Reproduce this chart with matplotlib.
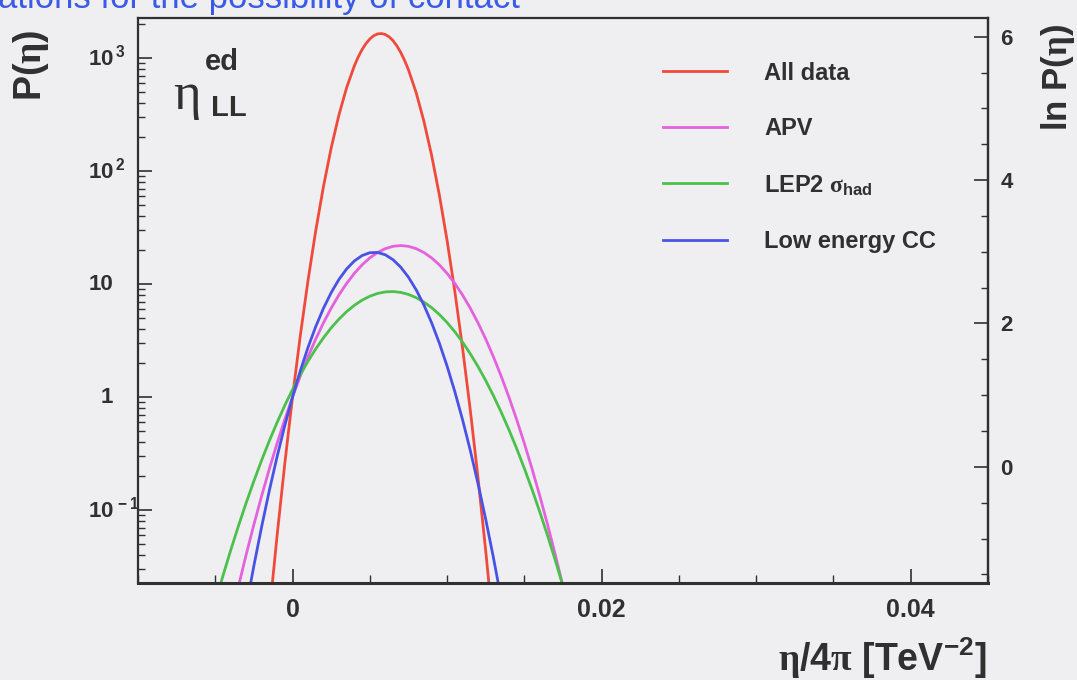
import matplotlib
matplotlib.use("Agg")
import matplotlib.pyplot as plt
import numpy as np
from matplotlib.ticker import FixedLocator, MultipleLocator, LogLocator, NullFormatter

# ln P(eta), for eta/4pi in TeV^-2
red_x = [-0.0015, -0.0010, -0.0005, 0.0, 0.0005, 0.0010, 0.0015, 0.0020, 0.0025, 0.0030,
         0.0035, 0.0040, 0.00425, 0.0045, 0.00475, 0.0050, 0.00525, 0.0055, 0.00575, 0.0060,
         0.00625, 0.0065, 0.00675, 0.0070, 0.00725, 0.0075, 0.0080, 0.0085, 0.0090, 0.0095,
         0.0100, 0.0105, 0.0110, 0.0115, 0.0120, 0.0125, 0.0130]
red_lnp = [-4.412, -2.827, -1.356, 0.000, 1.243, 2.371, 3.386, 4.287, 5.073, 5.746,
           6.304, 6.749, 6.929, 7.080, 7.202, 7.296, 7.362, 7.399, 7.407, 7.387,
           7.339, 7.262, 7.157, 7.023, 6.860, 6.669, 6.202, 5.620, 4.925, 4.116,
           3.192, 2.155, 1.003, -0.262, -1.641, -3.135, -4.742]

apv_x = [-0.0045, -0.0040, -0.0035, -0.0030, -0.0025, -0.0020, -0.0015, -0.0010, -0.0005, 0.0,
         0.0005, 0.0010, 0.0015, 0.0020, 0.0025, 0.0030, 0.0035, 0.0040, 0.0045, 0.0050,
         0.0055, 0.0060, 0.0065, 0.0070, 0.0075, 0.0080, 0.0085, 0.0090, 0.0095, 0.0100,
         0.0105, 0.0110, 0.0115, 0.0120, 0.0125, 0.0130, 0.0135, 0.0140, 0.0145, 0.0150,
         0.0155, 0.0160, 0.0165, 0.0170, 0.0175, 0.0180, 0.0185]
apv_lnp = [-5.245, -4.536, -3.859, -3.213, -2.599, -2.016, -1.465, -0.945, -0.457, 0.000,
           0.425, 0.819, 1.181, 1.512, 1.811, 2.079, 2.315, 2.520, 2.693, 2.835,
           2.945, 3.024, 3.071, 3.087, 3.071, 3.024, 2.945, 2.835, 2.693, 2.520,
           2.315, 2.079, 1.811, 1.512, 1.181, 0.819, 0.425, 0.000, -0.457, -0.945,
           -1.465, -2.016, -2.599, -3.213, -3.859, -4.536, -5.245]

lep2_x = [-0.0055, -0.0050, -0.0045, -0.0040, -0.0035, -0.0030, -0.0025, -0.0020, -0.0015, -0.0010,
          -0.0005, 0.0, 0.0005, 0.0010, 0.0015, 0.0020, 0.0025, 0.0030, 0.0035, 0.0040,
          0.0045, 0.0050, 0.0055, 0.0060, 0.0065, 0.0070, 0.0075, 0.0080, 0.0085, 0.0090,
          0.0095, 0.0100, 0.0105, 0.0110, 0.0115, 0.0120, 0.0125, 0.0130, 0.0135, 0.0140,
          0.0145, 0.0150, 0.0155, 0.0160, 0.0165, 0.0170, 0.0175, 0.0180]
lep2_lnp = [-4.752, -4.184, -3.641, -3.122, -2.627, -2.157, -1.711, -1.289, -0.892, -0.519,
            -0.170, 0.154, 0.453, 0.729, 0.980, 1.206, 1.409, 1.587, 1.740, 1.869,
            1.974, 2.054, 2.111, 2.142, 2.150, 2.132, 2.091, 2.025, 1.935, 1.821,
            1.682, 1.518, 1.331, 1.119, 0.882, 0.622, 0.336, 0.027, -0.307, -0.665,
            -1.048, -1.455, -1.886, -2.342, -2.822, -3.326, -3.855, -4.408]

cc_x = [-0.0035, -0.0030, -0.0025, -0.0020, -0.0015, -0.0010, -0.0005, 0.0, 0.0005, 0.0010,
        0.0015, 0.0020, 0.0025, 0.0030, 0.0035, 0.0040, 0.0045, 0.0050, 0.0055, 0.0060,
        0.0065, 0.0070, 0.0075, 0.0080, 0.0085, 0.0090, 0.0095, 0.0100, 0.0105, 0.0110,
        0.0115, 0.0120, 0.0125, 0.0130, 0.0135, 0.0140]
cc_lnp = [-5.181, -4.283, -3.438, -2.645, -1.905, -1.217, -0.582, 0.001, 0.531, 1.009,
          1.434, 1.807, 2.127, 2.395, 2.610, 2.773, 2.883, 2.941, 2.946, 2.899,
          2.799, 2.647, 2.442, 2.185, 1.875, 1.513, 1.098, 0.631, 0.111, -0.461,
          -1.086, -1.763, -2.493, -3.275, -4.110, -4.997]

LABELS = ["All data", "APV", r"LEP2 $\mathit{\sigma}_{\mathrm{had}}$", "Low energy CC"]
COLORS = ["#f04a3c", "#e462de", "#4cc04c", "#4a52e6"]

YTICKS = [0.1, 1, 10, 100, 1000]
YTICK_LABELS = [r"$10^{\,-1}$", "1", "10", r"$10^{\,2}$", r"$10^{\,3}$"]
XTICKS = [0.0, 0.02, 0.04]
XTICK_LABELS = ["0", "0.02", "0.04"]
LNP_TICKS = [0, 2, 4, 6]

BG = "#efeef0"
INK = "#303030"

plt.rcParams["font.family"] = ["Liberation Sans", "DejaVu Sans"]
plt.rcParams["font.weight"] = "bold"
plt.rcParams["mathtext.fontset"] = "custom"
plt.rcParams["mathtext.rm"] = "Liberation Sans:bold"
plt.rcParams["mathtext.bf"] = "Liberation Sans:bold"
plt.rcParams["mathtext.it"] = "Liberation Serif"
plt.rcParams["mathtext.default"] = "rm"

fig = plt.figure(figsize=(10.77, 6.8), dpi=100, facecolor=BG)
ax = fig.add_axes([0.1281, 0.1426, 0.7893, 0.8309], facecolor=BG)

series = [(red_x, red_lnp), (apv_x, apv_lnp), (lep2_x, lep2_lnp), (cc_x, cc_lnp)]
for (xs, lnp), lab, col in zip(series, LABELS, COLORS):
    ax.plot(xs, np.exp(lnp), color=col, lw=2.0, label=lab, solid_joinstyle="round")

ax.set_yscale("log")
ax.set_xlim(-0.0100, 0.0450)
ax.set_ylim(0.0226, 2260)

ax.yaxis.set_major_locator(FixedLocator(YTICKS))
ax.yaxis.set_minor_locator(LogLocator(base=10, subs=np.arange(2, 10)))
ax.yaxis.set_major_formatter(NullFormatter())
ax.yaxis.set_minor_formatter(NullFormatter())
ax.xaxis.set_major_locator(FixedLocator(XTICKS))
ax.set_xticklabels(XTICK_LABELS)
ax.xaxis.set_minor_locator(MultipleLocator(0.005))

ax.tick_params(axis="y", which="major", direction="in", length=10, width=1.2,
               color=INK, left=True, right=False)
ax.tick_params(axis="y", which="minor", direction="in", length=5, width=1.0,
               color=INK, left=True, right=False)
ax.tick_params(axis="x", which="major", direction="in", length=10, width=1.2,
               color=INK, top=False, labelsize=18, labelcolor=INK, pad=11)
ax.tick_params(axis="x", which="minor", direction="in", length=6, width=1.0,
               color=INK, top=False)

# ROOT-style y labels: "10" aligned, exponent pushed toward the axis
ytr = ax.get_yaxis_transform()
for v, lab in zip(YTICKS, YTICK_LABELS):
    if lab.startswith("$"):
        ax.text(-0.0588, v, lab, transform=ytr, ha="left", va="center",
                fontsize=16, color=INK)
    else:
        ax.text(-0.0294, v, lab, transform=ytr, ha="right", va="center",
                fontsize=16, color=INK)

for side in ["left", "bottom", "top", "right"]:
    ax.spines[side].set_color(INK)
    ax.spines[side].set_linewidth(1.6)
ax.spines["bottom"].set_linewidth(2.2)

ax2 = ax.twinx()
ax2.set_ylim(-1.62, 6.26)
ax2.yaxis.set_major_locator(FixedLocator(LNP_TICKS))
ax2.yaxis.set_minor_locator(MultipleLocator(0.5))
ax2.tick_params(axis="y", which="major", direction="in", length=10, width=1.2,
                color=INK, labelsize=16, labelcolor=INK, pad=9)
ax2.tick_params(axis="y", which="minor", direction="in", length=5, width=1.0, color=INK)
ax2.spines["right"].set_color(INK)
ax2.spines["right"].set_linewidth(1.6)
for side in ["left", "bottom", "top"]:
    ax2.spines[side].set_visible(False)

leg = ax.legend(loc="upper left", bbox_to_anchor=(0.6176, 0.923), frameon=False,
                fontsize=17, handlelength=2.7, handletextpad=1.6, labelspacing=1.38,
                borderpad=0, borderaxespad=0)
for t in leg.get_texts():
    t.set_color(INK)

fig.text(31 / 1077, 1 - 65 / 680, r"P($\mathit{\eta}$)", rotation=90, ha="center",
         va="center", fontsize=27, color=INK)
fig.text(1058 / 1077, 1 - 78 / 680, r"ln P($\mathit{\eta}$)", rotation=90, ha="center",
         va="center", fontsize=25, color=INK)
fig.text(987 / 1077, 1 - 658 / 680, r"$\mathit{\eta}$/4$\mathit{\pi}$ [TeV$^{-2}$]",
         ha="right", va="center", fontsize=27, color=INK)

fig.text(222 / 1077, 1 - 62 / 680, "ed", ha="center", va="center", fontsize=21, color=INK)
fig.text(187 / 1077, 1 - 96 / 680, "\u03b7", family="Liberation Serif", weight="normal",
         ha="center", va="center", fontsize=38, color=INK)
fig.text(229 / 1077, 1 - 108 / 680, "LL", ha="center", va="center", fontsize=21, color=INK)

fig.text(-0.002, 0.988, "ations for the possibility of contact", ha="left", va="baseline",
         fontsize=25, weight="normal", color="#3a5ae8")

fig.savefig("out.png", dpi=100, facecolor=BG)
